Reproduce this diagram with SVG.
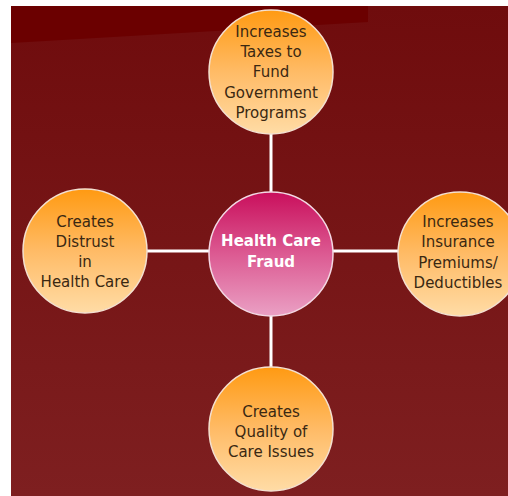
<svg xmlns="http://www.w3.org/2000/svg" width="508" height="496" viewBox="0 0 508 496">
  <defs>
    <linearGradient id="bg" x1="0" y1="0" x2="0" y2="1">
      <stop offset="0" stop-color="#6f0c0d"/>
      <stop offset="1" stop-color="#7e1f20"/>
    </linearGradient>
    <linearGradient id="orange" x1="0" y1="0" x2="0" y2="1">
      <stop offset="0" stop-color="#ff9a12"/>
      <stop offset="0.5" stop-color="#ffbb66"/>
      <stop offset="1" stop-color="#ffdca6"/>
    </linearGradient>
    <linearGradient id="pink" x1="0" y1="0" x2="0" y2="1">
      <stop offset="0" stop-color="#c90f5c"/>
      <stop offset="0.5" stop-color="#dc5a92"/>
      <stop offset="1" stop-color="#eaa0c4"/>
    </linearGradient>
  </defs>
  <style>
    .outer { fill: url(#orange); stroke: #f4e0d0; stroke-width: 1.5; }
    .hub { fill: url(#pink); stroke: #f4d8e4; stroke-width: 1.5; }
    .lbl { font-family: "DejaVu Sans", Verdana, sans-serif; font-size: 15px; fill: #3a2812; text-anchor: middle; }
    .hubtxt { font-family: "DejaVu Sans", Verdana, sans-serif; font-size: 15px; font-weight: bold; fill: #ffffff; text-anchor: middle; }
    .link { stroke: #ffffff; stroke-width: 3; fill: none; }
  </style>

  <!-- slide background -->
  <rect x="0" y="0" width="508" height="496" fill="#ffffff"/>
  <rect x="11" y="6" width="497" height="490" fill="url(#bg)"/>
  <polygon points="11,6 368,6 368,22 11,43" fill="#6b0000"/>

  <!-- connectors -->
  <g id="connectors">
    <line class="link" x1="271" y1="130" x2="271" y2="192"/>
    <line class="link" x1="271" y1="316" x2="271" y2="368"/>
    <line class="link" x1="147" y1="251" x2="209" y2="251"/>
    <line class="link" x1="333" y1="251" x2="398" y2="251"/>
  </g>

  <g id="hub">
    <circle class="hub" cx="271" cy="254" r="62"/>
    <text class="hubtxt" x="271" y="246">Health Care</text>
    <text class="hubtxt" x="271" y="267">Fraud</text>
  </g>

  <g id="taxes">
    <circle class="outer" cx="271" cy="72" r="62"/>
    <text class="lbl" x="271" y="37">Increases</text>
    <text class="lbl" x="271" y="57">Taxes to</text>
    <text class="lbl" x="271" y="77">Fund</text>
    <text class="lbl" x="271" y="98">Government</text>
    <text class="lbl" x="271" y="118">Programs</text>
  </g>

  <g id="premiums">
    <circle class="outer" cx="460" cy="254" r="62"/>
    <text class="lbl" x="458" y="227">Increases</text>
    <text class="lbl" x="458" y="247">Insurance</text>
    <text class="lbl" x="458" y="268">Premiums/</text>
    <text class="lbl" x="458" y="288">Deductibles</text>
  </g>

  <g id="distrust">
    <circle class="outer" cx="85" cy="251" r="62"/>
    <text class="lbl" x="85" y="227">Creates</text>
    <text class="lbl" x="85" y="247">Distrust</text>
    <text class="lbl" x="85" y="267">in</text>
    <text class="lbl" x="85" y="287">Health Care</text>
  </g>

  <g id="quality">
    <circle class="outer" cx="271" cy="429" r="62"/>
    <text class="lbl" x="271" y="417">Creates</text>
    <text class="lbl" x="271" y="437">Quality of</text>
    <text class="lbl" x="271" y="457">Care Issues</text>
  </g>
</svg>
